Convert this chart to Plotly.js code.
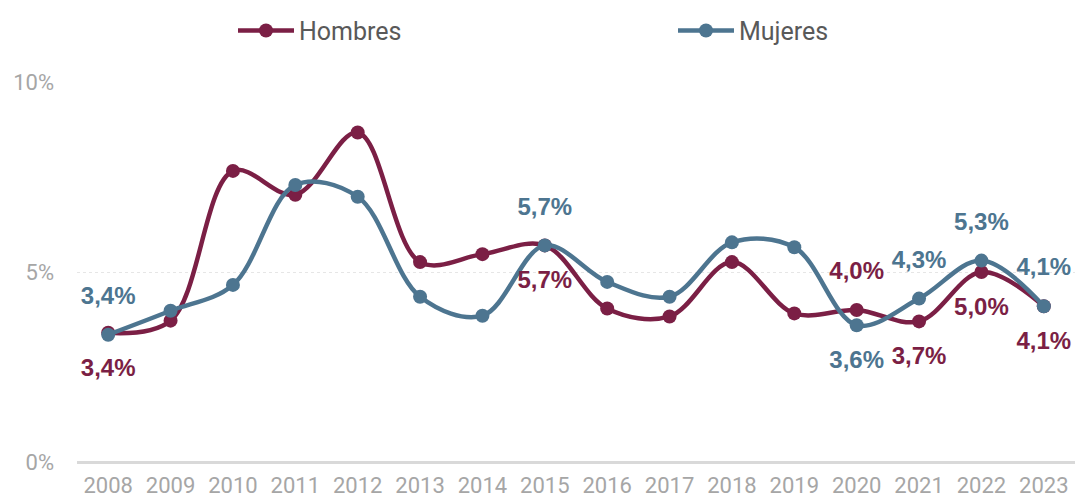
<!DOCTYPE html>
<html><head><meta charset="utf-8">
<script src="https://cdn.plot.ly/plotly-3.0.1.min.js"></script>
<style>html,body{margin:0;padding:0;background:#fff}#chart{width:1083px;height:500px}</style>
</head><body><div id="chart"></div>
<script>
const years = ['2008','2009','2010','2011','2012','2013','2014','2015','2016','2017','2018','2019','2020','2021','2022','2023'];
const hombres = [3.4,3.72,7.66,7.03,8.67,5.26,5.47,5.7,4.04,3.83,5.26,3.91,4.0,3.7,5.0,4.1];
const mujeres = [3.35,3.98,4.66,7.29,6.98,4.35,3.85,5.7,4.74,4.35,5.78,5.65,3.6,4.3,5.3,4.1];
// labelled points: year index -> side ('top' above, 'bottom' below)
const hombresLabelIdx = [0,7,12,13,14,15];
const hombresLabelSide = ['bottom','bottom','top','bottom','bottom','bottom'];
const mujeresLabelIdx = [0,7,12,13,14,15];
const mujeresLabelSide = ['top','top','bottom','top','top','top'];
const yTicks = [0,5,10];
const yTickText = ['0%','5%','10%'];

const cH = '#7b1f45', cM = '#4d7590';
const FONT = 'Roboto, Liberation Sans, Arial';
const LFONT = 'Liberation Sans, Arial, sans-serif';
function fmt(v){return v.toFixed(1).replace('.',',')+'%';}
function labelTrace(idx, sides, series, color){
  return {x: idx.map(i=>years[i]), y: idx.map(i=>series[i]), text: idx.map(i=>fmt(series[i])),
    type:'scatter', mode:'text+markers', textposition: sides.map(s=>s+' center'),
    marker:{size:38, opacity:0, color:color}, showlegend:false, hoverinfo:'skip', cliponaxis:false,
    textfont:{family:LFONT, size:24, color:color, weight:700}};
}

const traces = [
  {x:years, y:hombres, name:'Hombres', type:'scatter', mode:'lines+markers', legend:'legend',
   line:{color:cH, width:4.5, shape:'spline', smoothing:1}, marker:{color:cH, size:14}, hoverinfo:'skip'},
  {x:years, y:mujeres, name:'Mujeres', type:'scatter', mode:'lines+markers', legend:'legend2',
   line:{color:cM, width:4.5, shape:'spline', smoothing:1}, marker:{color:cM, size:14}, hoverinfo:'skip'},
  labelTrace(hombresLabelIdx, hombresLabelSide, hombres, cH),
  labelTrace(mujeresLabelIdx, mujeresLabelSide, mujeres, cM)
];
const legFont = {family:FONT, size:25, color:'#595959'};
const layout = {
  width:1083, height:500,
  margin:{l:77, r:8, t:76, b:38},
  paper_bgcolor:'#fff', plot_bgcolor:'#fff',
  showlegend:true,
  legend:{orientation:'h', x:(233-77)/998, xanchor:'left', y:(462-24)/386, yanchor:'middle', font:legFont, bgcolor:'rgba(0,0,0,0)', itemwidth:56},
  legend2:{orientation:'h', x:(673-77)/998, xanchor:'left', y:(462-24)/386, yanchor:'middle', font:legFont, bgcolor:'rgba(0,0,0,0)', itemwidth:56},
  xaxis:{type:'category', range:[-0.5,15.5], showgrid:false, zeroline:false, showline:false, automargin:false,
    ticks:'', ticklabelstandoff:8, tickfont:{family:FONT, size:22, color:'#a6a6a6'}, fixedrange:true},
  yaxis:{range:[0,10], tickvals:yTicks, ticktext:yTickText, showgrid:true, gridcolor:'#e6e6e6', griddash:'dot', gridwidth:1,
    zeroline:true, zerolinecolor:'#d9d9d9', zerolinewidth:3, showline:false, ticks:'', ticklabelstandoff:22,
    tickfont:{family:FONT, size:22, color:'#a6a6a6'}, fixedrange:true}
};
Plotly.newPlot('chart', traces, layout, {displayModeBar:false, staticPlot:true}).then(gd=>{
  // widen legend line symbols to match the reference
  gd.querySelectorAll('.legendlines path').forEach(p=>{ p.setAttribute('d','M5,0h56'); });
  gd.querySelectorAll('.legendpoints path.scatterpts').forEach(p=>{ p.setAttribute('transform','translate(33,0)'); });
});
</script>
</body></html>
